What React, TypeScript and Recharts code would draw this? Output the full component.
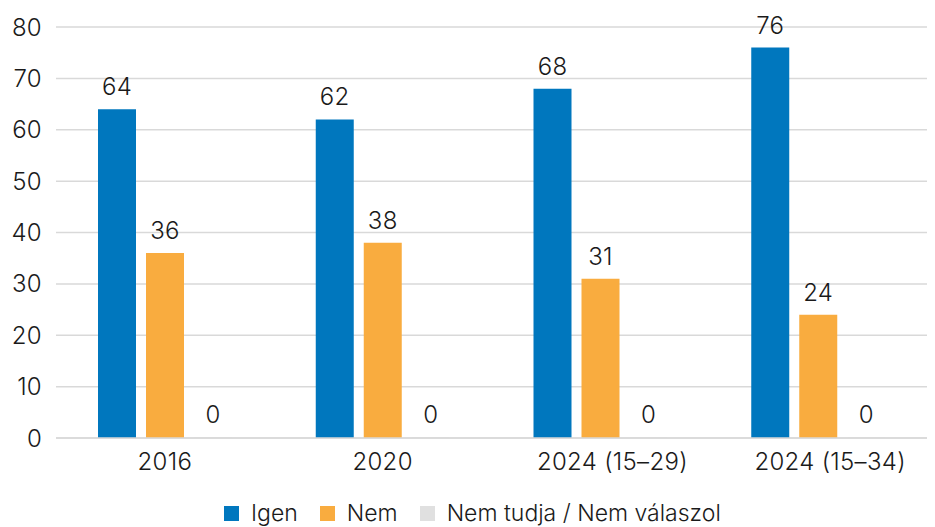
import React from "react";
import { BarChart, Bar, XAxis, YAxis, CartesianGrid, LabelList, Legend } from "recharts";

const categories = ["2016", "2020", "2024 (15–29)", "2024 (15–34)"];
const igen = [64, 62, 68, 76];
const nem = [36, 38, 31, 24];
const nemTudja = [0, 0, 0, 0];
const yTicks = [0, 10, 20, 30, 40, 50, 60, 70, 80];

const seriesNames = ["Igen", "Nem", "Nem tudja / Nem válaszol"];
const seriesColors = ["#0077be", "#f9ac3f", "#e0e0e0"];

const data = categories.map((c, i) => ({
  cat: c,
  igen: igen[i],
  nem: nem[i],
  nt: nemTudja[i],
}));

const FONT = "Inter, 'Noto Sans', sans-serif";
const TEXT = "#1a1a1a";
const FS = 24;
const LS = 0.3;
const FW = 300;

const LegendContent = () => (
  <div
    style={{
      display: "flex",
      alignItems: "center",
      paddingLeft: 224,
      fontFamily: FONT,
      fontSize: 23,
      fontWeight: FW,
      letterSpacing: 0,
      color: TEXT,
      lineHeight: "26px",
    }}
  >
    {seriesNames.map((n, i) => (
      <div key={n} style={{ display: "flex", alignItems: "center", marginRight: 22 }}>
        <div style={{ width: 15, height: 15, background: seriesColors[i], marginRight: 12 }} />
        <span>{n}</span>
      </div>
    ))}
  </div>
);

const XTick = (props: any) => {
  const { x, y, payload } = props;
  const v = String(payload.value);
  const shift = v.length > 6 ? 12 : 0;
  return (
    <text
      x={x + shift}
      y={y}
      dy="0.71em"
      textAnchor="middle"
      fill={TEXT}
      fontSize={FS}
      fontFamily={FONT}
      fontWeight={FW}
      letterSpacing={LS}
    >
      {v}
    </text>
  );
};

const labelProps = {
  position: "top" as const,
  offset: 14,
  fill: TEXT,
  fontSize: FS,
  fontFamily: FONT,
  fontWeight: FW,
  letterSpacing: LS,
};

export default function App() {
  return (
    <div style={{ position: "absolute", left: 0, top: 0, width: 935, height: 527, background: "#fff" }}>
      <BarChart
        width={935}
        height={527}
        data={data}
        margin={{ top: 27, right: 8, left: 0, bottom: 49 }}
        barGap={10}
      >
        <CartesianGrid vertical={false} stroke="#d9d9d9" strokeWidth={1.5} />
        <XAxis
          dataKey="cat"
          axisLine={{ stroke: "#d9d9d9", strokeWidth: 1.5 }}
          tickLine={false}
          tickMargin={9}
          height={40}
          tick={<XTick />}
        />
        <YAxis
          domain={[0, 80]}
          ticks={yTicks}
          width={56}
          axisLine={false}
          tickLine={false}
          tickMargin={8}
          tick={{ fill: TEXT, fontSize: FS, fontFamily: FONT, fontWeight: FW, letterSpacing: LS }}
        />
        <Legend
          layout="horizontal"
          verticalAlign="middle"
          align="center"
          wrapperStyle={{ top: 500, left: 0, width: 935 }}
          content={<LegendContent />}
        />
        <Bar dataKey="igen" name={seriesNames[0]} fill={seriesColors[0]} barSize={38} isAnimationActive={false}>
          <LabelList dataKey="igen" {...labelProps} />
        </Bar>
        <Bar dataKey="nem" name={seriesNames[1]} fill={seriesColors[1]} barSize={38} isAnimationActive={false}>
          <LabelList dataKey="nem" {...labelProps} />
        </Bar>
        <Bar dataKey="nt" name={seriesNames[2]} fill={seriesColors[2]} barSize={38} minPointSize={1} isAnimationActive={false}>
          <LabelList dataKey="nt" {...labelProps} />
        </Bar>
      </BarChart>
    </div>
  );
}
